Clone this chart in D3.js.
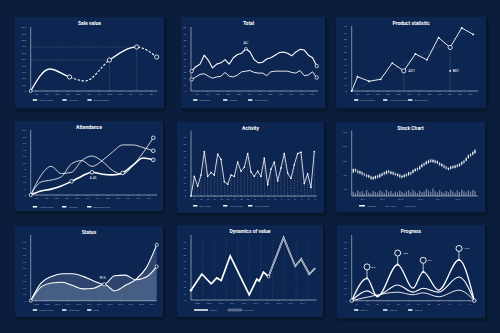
<!DOCTYPE html>
<html>
<head>
<meta charset="utf-8">
<script src="https://cdn.jsdelivr.net/npm/d3@7/dist/d3.min.js"></script>
<style>
html,body{margin:0;padding:0;background:#0a1d3c;overflow:hidden;}
svg{display:block;}
</style>
</head>
<body>
<svg id="board" width="500" height="333"></svg>
<script>
// ---------- data ----------
const months = ["Jan","Feb","Mar","Apr","May","Jun","Jul","Aug","Sep","Oct","Nov","Dec"];

// Sale value: position in months, value
const salePos = [0, 1.8, 3.7, 5.2, 7.5, 10.1, 12];
const saleVal = [0, 344, 219, 156, 484, 688, 531];
const saleForecastSpans = [[2, 4], [5, 6]];
const saleRings = [2, 4, 5, 6];
const saleGuides = [4, 5];
const saleTicks = [0, 100, 200, 300, 400, 500, 600, 700, 800, 900, 1000];
const saleLegend = ["Sales volume", "Forecast", "Average check"];

// Total
const totalUpper = [31,38,42,56,48,36,42,44,49,42,52,57,59,66,61,49,44,45,50,52,56,60,61,59,55,61,65,64,56,52,39];
const totalLower = [18,22,26,27,23,20,22,23,29,23,22,25,30,31,32,29,28,28,24,30,31,31,31,31,29,28,32,24,25,30,21];
const totalPeak = { index: 13, label: "AC" };
const totalTicks = [0, 10, 20, 30, 40, 50, 60, 70, 80, 90, 100];
const totalLegend = ["Marketing", "Support", "Infrastructure"];

// Product statistic
const productVal = [22, 15, 18, 43, 31, 57, 48, 82, 67, 97, 87];
const productTrend = [0, 96];
const productNotes = [{ index: 4, label: "A01" }, { index: 8, label: "B01" }];
const productTicks = [0, 10, 20, 30, 40, 50, 60, 70, 80, 90, 100];
const productLegend = ["Sold products", "Product purchase", "Average price"];

// Attendance
const attendMain = [0, 6, 9, 14, 21, 29, 35, 32, 31, 34, 46, 57, 54];
const attendSecond = [0, 20, 23, 28, 48, 53, 44, 53, 66, 77, 77, 73, 68];
const attendThird = [0, 30, 44, 33, 35, 53, 60, 52, 38, 32, 45, 65, 88];
const attendRings = [4, 6, 9, 12];
const attendNote = { index: 6, label: "A 45" };
const attendTicks = [0, 10, 20, 30, 40, 50, 60, 70, 80, 90, 100];
const attendLegend = ["Visitors actual", "Forecast", "Average per day"];

// Activity
const activityVal = [0,30,15,32,68,30,36,32,64,56,22,18,32,30,52,38,44,65,37,30,38,30,58,17,41,52,23,43,65,35,27,48,65,67,19,34,13,68];
const activityTicks = [0, 10, 20, 30, 40, 50, 60, 70, 80, 90];
const activityLegend = ["Daily visits", "Unique users", "Session length"];

// Stock chart
const stockOpen  = [165,189,178,158,168,156,150,130,138,117,122,145,132,142,167,154,178,155,168,158,139,150,128,133,155,146,167,162,174,196,188,203,230,222,231,256,237,250,228,233,209,214,206,183,190,211,197,219,209,220,249,246,265,294,289,300];
const stockClose = [189,172,162,174,150,144,134,146,118,133,140,127,152,158,151,176,162,171,150,146,155,130,142,149,139,166,151,182,190,180,208,221,214,242,249,238,253,232,244,215,225,198,190,197,206,195,213,203,225,238,231,266,285,278,309,322];
const stockHigh  = [197,195,186,180,173,163,157,152,144,139,147,151,158,165,173,182,185,177,174,165,161,156,149,155,162,172,174,188,197,203,214,228,237,249,256,262,260,256,251,239,231,221,212,204,212,217,220,226,232,245,255,273,292,301,316,330];
const stockLow   = [158,165,155,150,143,137,128,124,112,110,116,121,126,136,144,149,156,149,144,139,133,124,121,127,132,140,145,156,168,173,182,196,207,216,224,232,230,226,221,209,202,192,184,177,184,189,191,197,203,214,225,240,259,271,283,294];
const stockVolume = [42,30,55,38,48,25,60,35,28,52,40,33,58,45,30,62,38,50,27,44,36,55,41,30,48,57,35,62,44,30,52,38,46,70,55,40,75,48,35,58,42,30,50,38,60,45,33,55,40,65,48,36,58,44,62,50];
const stockYearAt = [4, 13, 21, 30, 38, 47];
const stockYears = ["2013", "2014", "2015", "2016", "2017", "2018"];
const stockTicks = [50, 150, 250, 350, 450];
const stockLegend = ["Variation", "\u25B2 07.2018", "\u25CF 08.2018"];

// Status
const statusYears = ["2008","2009","2010","2011","2012","2013","2014","2015","2016","2017","2018","2019"];
const statusPlan = [0, 27, 37, 41, 41, 37, 30, 25, 38, 39, 32, 36, 52];
const statusDone = [0, 21, 27, 28, 23, 18, 19, 25, 15, 23, 32, 50, 85];
const statusNote = { index: 7, label: "R15" };
const statusTicks = [0, 10, 20, 30, 40, 50, 60, 70, 80, 90];
const statusLegend = ["Planned value", "Completed", "Delta"];

// Dynamics of value
const dynYears = [2008, 2009, 2010, 2011, 2012, 2013, 2014, 2015, 2016, 2017];
const dynExportX = [2007.5, 2008.43, 2009.23, 2009.71, 2010.09, 2010.86, 2012.49, 2013.14, 2013.34, 2013.71, 2014.14];
const dynExportY = [15, 40, 25, 34, 30, 68, 8, 32, 29, 43, 36];
const dynReexportX = [2014.14, 2015.43, 2016.43, 2016.94, 2017.63, 2018.14];
const dynReexportY = [36, 96, 52, 63, 40, 49];
const dynTicks = [0, 10, 20, 30, 40, 50, 60, 70, 80, 90];
const dynLegend = ["Export", "Re-export"];

// Progress (half-month steps)
const progressX = [0, 3, 5, 9, 12, 14, 17, 21, 24];
const progressBig = [0, 34, 6, 55, 19, 44, 16, 62, 0];
const progressMid = [0, 15, 8, 24, 13, 19, 13, 36, 0];
const progressLowX = [0, 4, 9, 12, 14, 17, 21, 24];
const progressLow = [0, 7, 13, 9, 12, 6, 16, 0];
const progressPeaks = [1, 3, 5, 7];
const progressPeakLabels = ["872", "1 050", "964", "1 154"];
const progressTicks = [0, 10, 20, 30, 40, 50, 60, 70, 80, 90];
const progressLegend = ["Item 01", "Item 02", "Item 03"];

// ---------- look ----------
const FONT = "Roboto, 'Liberation Sans', Arial, sans-serif";
const BG = "#0a1d3c", PANEL = "#0d2851", INK = "#ffffff";
const AXIS = "rgba(255,255,255,0.8)", TICK = "#8ea2c2";

// card frames and plot areas
const L = {
  sale:     { x: 15,  y: 17,  w: 149, h: 91, l: 30.7,  r: 157,   t: 27,    b: 91,    e: 156.7, lx: [36, 151],   ly: 100,   lxs: [32.7, 62.3, 87.3] },
  total:    { x: 181, y: 17,  w: 144, h: 91, l: 191,   r: 318,   t: 27,    b: 91,    s: 191.7, e: 316.7, lx: [196.7, 311.7], ly: 100, lxs: [193, 223, 248], tx: 248.5 },
  product:  { x: 336, y: 17,  w: 150, h: 91, l: 351.7, r: 478,   t: 26,    b: 91,    e: 473.3, lx: [357, 470],  ly: 100,   lxs: [354, 383, 408] },
  attend:   { x: 15,  y: 121, w: 148, h: 90, l: 30.7,  r: 157,   t: 130,   b: 195,   e: 153.3, lx: [35.8, 148.2], ly: 206.7, lxs: [32.7, 62, 87] },
  activity: { x: 177, y: 122, w: 147, h: 91, l: 191,   r: 316.7, t: 130.7, b: 196,   e: 314.3, ly: 205.7, lxs: [193, 223, 248] },
  stock:    { x: 336, y: 122, w: 149, h: 90, l: 351.7, r: 478,   t: 130.7, b: 196,   s: 353.3, e: 475, ly: 205.7, lxs: [359, 383, 403] },
  status:   { x: 15,  y: 226, w: 148, h: 91, l: 30.7,  r: 156.7, t: 235,   b: 300.7, e: 156.7, ly: 310, lxs: [32.7, 62, 87] },
  dyn:      { x: 177, y: 225, w: 146, h: 92, l: 191,   r: 316.7, t: 235,   b: 300,   e: 319.4, ly: 310, lxs: [194, 228] },
  progress: { x: 337, y: 225, w: 148, h: 93, l: 351.7, r: 476.7, t: 235,   b: 300.7, e: 474.3, ly: 310, lxs: [354, 383, 408] }
};

const svg = d3.select("#board");
const defs = svg.append("defs");
const drop = defs.append("filter").attr("id", "drop")
  .attr("x", "-10%").attr("y", "-10%").attr("width", "125%").attr("height", "130%");
drop.append("feDropShadow").attr("dx", 1.2).attr("dy", 1.8).attr("stdDeviation", 1.8)
  .attr("flood-color", "#020916").attr("flood-opacity", 0.75);

svg.append("rect").attr("width", 500).attr("height", 333).attr("fill", BG);

// ---------- helpers ----------
function card(p, title) {
  const g = svg.append("g");
  g.append("rect").attr("x", p.x).attr("y", p.y).attr("width", p.w).attr("height", p.h)
    .attr("fill", PANEL).attr("filter", "url(#drop)");
  g.append("text").attr("x", p.tx || p.x + p.w / 2).attr("y", p.y + 8.2)
    .attr("text-anchor", "middle").attr("font-family", FONT).attr("font-weight", 700)
    .attr("font-size", 5).attr("fill", INK).text(title);
  return g;
}
function leftAxis(g, p, scale, ticks, fmt) {
  const a = g.append("g").attr("transform", `translate(${p.l},0)`)
    .call(d3.axisLeft(scale).tickValues(ticks).tickSize(0).tickPadding(5).tickFormat(fmt || d3.format("d")));
  a.select(".domain").remove();
  a.selectAll("text").attr("font-size", 2.3).attr("fill", TICK).attr("font-family", FONT);
  g.append("line").attr("x1", p.l).attr("x2", p.l).attr("y1", p.t).attr("y2", p.b)
    .attr("stroke", AXIS).attr("stroke-width", 0.6);
}
function bottomAxis(g, p, scale, ticks, fmt) {
  const ax = d3.axisBottom(scale).tickSize(0.8).tickPadding(1.8);
  if (ticks) ax.tickValues(ticks);
  if (fmt) ax.tickFormat(fmt);
  const a = g.append("g").attr("transform", `translate(0,${p.b})`).call(ax);
  a.select(".domain").remove();
  a.selectAll("line").attr("stroke", AXIS).attr("stroke-width", 0.4);
  a.selectAll("text").attr("font-size", 2.2).attr("fill", TICK).attr("font-family", FONT);
  g.append("line").attr("x1", p.l).attr("x2", p.r).attr("y1", p.b).attr("y2", p.b)
    .attr("stroke", AXIS).attr("stroke-width", 0.6);
}
function legend(g, p, labels, opts) {
  opts = opts || {};
  labels.forEach((lab, i) => {
    const x = p.lxs[i], w = (opts.widths && opts.widths[i]) || 4.5;
    const sw = g.append("rect").attr("x", x).attr("y", p.ly - 0.8).attr("width", w).attr("height", 1.6).attr("rx", 0.6);
    if (opts.outline && opts.outline[i]) sw.attr("fill", "none").attr("stroke", INK).attr("stroke-width", 0.45);
    else sw.attr("fill", INK);
    g.append("text").attr("x", x + w + 2).attr("y", p.ly + 0.8).attr("font-size", 2.3)
      .attr("font-family", FONT).attr("fill", TICK).text(lab);
  });
}
function dotted(sel, op) {
  sel.attr("stroke", INK).attr("stroke-opacity", op == null ? 0.55 : op)
    .attr("stroke-width", 0.5).attr("stroke-dasharray", "0.6 1.1");
}
function ring(g, cx, cy, r, w) {
  return g.append("circle").attr("cx", cx).attr("cy", cy).attr("r", r)
    .attr("fill", PANEL).attr("stroke", INK).attr("stroke-width", w || 0.8);
}
function stroke(sel, w) {
  return sel.attr("fill", "none").attr("stroke", INK).attr("stroke-width", w)
    .attr("stroke-linejoin", "round").attr("stroke-linecap", "round");
}

// ---------- Sale value ----------
{
  const p = L.sale, g = card(p, "Sale value");
  const x = d3.scaleLinear().domain([0, 12]).range([p.l, p.e]);
  const y = d3.scaleLinear().domain([0, 1000]).range([p.b, p.t]);
  leftAxis(g, p, y, saleTicks);
  bottomAxis(g, p, d3.scalePoint().domain(months).range(p.lx));
  saleGuides.forEach(i => {
    g.append("line").attr("x1", p.l).attr("x2", x(salePos[i])).attr("y1", y(saleVal[i])).attr("y2", y(saleVal[i])).call(dotted);
    g.append("line").attr("x1", x(salePos[i])).attr("x2", x(salePos[i])).attr("y1", y(saleVal[i])).attr("y2", p.b).call(dotted);
  });
  const pts = salePos.map((v, i) => [v, saleVal[i]]);
  const line = d3.line().x(d => x(d[0])).y(d => y(d[1])).curve(d3.curveMonotoneX);
  const bounds = [salePos[0], ...saleForecastSpans.flat().map(i => salePos[i]), salePos[salePos.length - 1]];
  const solidClip = defs.append("clipPath").attr("id", "saleSolid");
  for (let k = 0; k < bounds.length; k += 2) {
    const a = x(bounds[k]) - (k === 0 ? 4 : 0), b = x(bounds[k + 1]);
    if (b > a) solidClip.append("rect").attr("x", a).attr("width", b - a).attr("y", p.t - 10).attr("height", p.b - p.t + 20);
  }
  const dashClip = defs.append("clipPath").attr("id", "saleDash");
  saleForecastSpans.forEach(([a, b]) => {
    const xa = x(salePos[a]), xb = x(salePos[b]) + (b === salePos.length - 1 ? 4 : 0);
    dashClip.append("rect").attr("x", xa).attr("width", xb - xa).attr("y", p.t - 10).attr("height", p.b - p.t + 20);
  });
  stroke(g.append("path").attr("d", line(pts)).attr("clip-path", "url(#saleSolid)"), 1.3);
  stroke(g.append("path").attr("d", line(pts)).attr("clip-path", "url(#saleDash)"), 1.1)
    .attr("stroke-linecap", "butt").attr("stroke-dasharray", "2.4 1.6");
  ring(g, x(salePos[0]), y(saleVal[0]), 1.5, 0.7);
  saleRings.forEach(i => ring(g, x(salePos[i]), y(saleVal[i]), 2.1, 0.8));
  legend(g, p, saleLegend);
}

// ---------- Total ----------
{
  const p = L.total, g = card(p, "Total");
  const x = d3.scaleLinear().domain([0, totalUpper.length - 1]).range([p.s, p.e]);
  const y = d3.scaleLinear().domain([0, 100]).range([p.b, p.t]);
  leftAxis(g, p, y, totalTicks);
  bottomAxis(g, p, d3.scalePoint().domain(months).range(p.lx));
  const line = d3.line().x((d, i) => x(i)).y(d => y(d)).curve(d3.curveLinear);
  stroke(g.append("path").attr("d", line(totalLower)), 0.9);
  stroke(g.append("path").attr("d", line(totalUpper)), 1.1);
  [totalUpper, totalLower].forEach(s => {
    ring(g, x(0), y(s[0]), 1.7, 0.7);
    ring(g, x(s.length - 1), y(s[s.length - 1]), 1.7, 0.7);
  });
  const pk = totalPeak.index;
  ring(g, x(pk), y(totalUpper[pk]), 1.3, 0.7);
  g.append("text").attr("x", x(pk)).attr("y", y(totalUpper[pk]) - 4.5).attr("text-anchor", "middle")
    .attr("font-family", FONT).attr("font-size", 4).attr("fill", INK).text(totalPeak.label);
  legend(g, p, totalLegend);
}

// ---------- Product statistic ----------
{
  const p = L.product, g = card(p, "Product statistic");
  const x = d3.scaleLinear().domain([-0.5, productVal.length - 1]).range([p.l, p.e]);
  const y = d3.scaleLinear().domain([0, 100]).range([p.b, p.t]);
  leftAxis(g, p, y, productTicks);
  bottomAxis(g, p, d3.scalePoint().domain(months).range(p.lx));
  g.append("line").attr("x1", x(-0.5)).attr("y1", y(productTrend[0]))
    .attr("x2", x(productVal.length - 1)).attr("y2", y(productTrend[1])).call(dotted, 0.45);
  productNotes.forEach(n => {
    g.append("line").attr("x1", x(n.index)).attr("x2", x(n.index)).attr("y1", y(productVal[n.index])).attr("y2", p.b).call(dotted, 0.7);
  });
  const pts = [[-0.5, 0], ...productVal.map((v, i) => [i, v])];
  const line = d3.line().x(d => x(d[0])).y(d => y(d[1]));
  stroke(g.append("path").attr("d", line(pts)), 0.9);
  g.selectAll(null).data(pts).enter().append("circle")
    .attr("cx", d => x(d[0])).attr("cy", d => y(d[1])).attr("r", 0.9).attr("fill", INK);
  const base = productNotes[0];
  const noteY = y(productVal[base.index]);
  productNotes.forEach((n, k) => {
    if (k === 0) {
      ring(g, x(n.index), noteY, 2.1, 0.8);
      g.append("text").attr("x", x(n.index) + 4.5).attr("y", noteY + 1.4).attr("font-family", FONT)
        .attr("font-size", 3.8).attr("fill", INK).text(n.label);
    } else {
      ring(g, x(n.index), y(productVal[n.index]), 2.1, 0.8);
      g.append("rect").attr("x", x(n.index) - 0.8).attr("y", noteY - 0.8).attr("width", 1.6).attr("height", 1.6).attr("fill", INK);
      g.append("text").attr("x", x(n.index) + 2.5).attr("y", noteY + 1.4).attr("font-family", FONT)
        .attr("font-size", 3.8).attr("fill", INK).text(n.label);
    }
  });
  legend(g, p, productLegend);
}

// ---------- Attendance ----------
{
  const p = L.attend, g = card(p, "Attendance");
  const x = d3.scaleLinear().domain([0, 12]).range([p.l, p.e]);
  const y = d3.scaleLinear().domain([0, 100]).range([p.b, p.t]);
  leftAxis(g, p, y, attendTicks);
  bottomAxis(g, p, d3.scalePoint().domain(months).range(p.lx));
  const line = d3.line().x((d, i) => x(i)).y(d => y(d)).curve(d3.curveMonotoneX);
  stroke(g.append("path").attr("d", line(attendSecond)), 0.8);
  stroke(g.append("path").attr("d", line(attendThird)), 0.8);
  stroke(g.append("path").attr("d", line(attendMain)), 1.6);
  ring(g, x(0), y(0), 1.6, 0.7);
  attendRings.forEach(i => ring(g, x(i), y(attendMain[i]), 1.8, 0.8));
  ring(g, x(12), y(attendSecond[12]), 1.8, 0.8);
  ring(g, x(12), y(attendThird[12]), 1.8, 0.8);
  g.append("text").attr("x", x(attendNote.index) + 1).attr("y", y(attendMain[attendNote.index]) + 7)
    .attr("text-anchor", "middle").attr("font-family", FONT).attr("font-size", 3.2)
    .attr("fill", INK).text(attendNote.label);
  legend(g, p, attendLegend);
}

// ---------- Activity ----------
{
  const p = L.activity, g = card(p, "Activity");
  const x = d3.scaleLinear().domain([0, activityVal.length - 1]).range([p.l, p.e]);
  const y = d3.scaleLinear().domain([0, 100]).range([p.b, p.t]);
  leftAxis(g, p, y, activityTicks);
  bottomAxis(g, p, x, d3.range(1, activityVal.length, 2), d => String((d + 1) / 2).padStart(2, "0"));
  activityVal.forEach((v, i) => {
    g.append("line").attr("x1", x(i)).attr("x2", x(i)).attr("y1", y(v)).attr("y2", p.b).call(dotted, 0.6);
  });
  const line = d3.line().x((d, i) => x(i)).y(d => y(d));
  stroke(g.append("path").attr("d", line(activityVal)), 0.8);
  g.selectAll(null).data(activityVal).enter().append("rect")
    .attr("x", (d, i) => x(i) - 0.7).attr("y", d => y(d) - 0.7)
    .attr("width", 1.4).attr("height", 1.4).attr("fill", INK);
  legend(g, p, activityLegend);
}

// ---------- Stock Chart ----------
{
  const p = L.stock, g = card(p, "Stock Chart");
  const x = d3.scaleLinear().domain([0, stockClose.length - 1]).range([p.s, p.e]);
  const y = d3.scaleLinear().domain([0, 450]).range([p.b, p.t + 1]);
  const v = d3.scaleLinear().domain([0, 100]).range([0, 10]);
  leftAxis(g, p, y, stockTicks);
  bottomAxis(g, p, x, stockYearAt, (d, i) => stockYears[i]);
  g.selectAll(null).data(stockVolume).enter().append("rect")
    .attr("x", (d, i) => x(i) - 0.65).attr("y", d => p.b - v(d))
    .attr("width", 1.3).attr("height", d => v(d)).attr("fill", "#ffffff").attr("fill-opacity", 0.42);
  stockClose.forEach((c, i) => {
    const o = stockOpen[i];
    g.append("line").attr("x1", x(i)).attr("x2", x(i)).attr("y1", y(stockHigh[i])).attr("y2", y(stockLow[i]))
      .attr("stroke", INK).attr("stroke-opacity", 0.8).attr("stroke-width", 0.4);
    g.append("rect").attr("x", x(i) - 0.65).attr("y", y(Math.max(o, c)))
      .attr("width", 1.3).attr("height", Math.abs(y(o) - y(c)))
      .attr("fill", INK).attr("fill-opacity", c >= o ? 0.95 : 0.75);
  });
  legend(g, p, stockLegend, { widths: [6, 0.01, 0.01] });
}

// ---------- Status ----------
{
  const p = L.status, g = card(p, "Status");
  const x = d3.scaleLinear().domain([0, 12]).range([p.l, p.e]);
  const y = d3.scaleLinear().domain([0, 100]).range([p.b, p.t]);
  leftAxis(g, p, y, statusTicks);
  bottomAxis(g, p, x, d3.range(0.5, 12, 1), (d, i) => statusYears[i]);
  const area = d3.area().x((d, i) => x(i)).y0(p.b).y1(d => y(d)).curve(d3.curveMonotoneX);
  const line = d3.line().x((d, i) => x(i)).y(d => y(d)).curve(d3.curveMonotoneX);
  [statusPlan, statusDone].forEach(s => {
    g.append("path").attr("d", area(s)).attr("fill", "#9fb6d6").attr("fill-opacity", 0.22);
  });
  stroke(g.append("path").attr("d", line(statusPlan)), 1.1);
  stroke(g.append("path").attr("d", line(statusDone)), 1.1);
  ring(g, x(0), y(0), 1.5, 0.7);
  ring(g, x(12), y(statusPlan[12]), 1.6, 0.7);
  ring(g, x(12), y(statusDone[12]), 1.6, 0.7);
  const n = statusNote.index;
  ring(g, x(n), y(statusPlan[n]), 1.6, 0.7);
  g.append("text").attr("x", x(n) - 1.5).attr("y", y(statusPlan[n]) - 5).attr("text-anchor", "middle")
    .attr("font-family", FONT).attr("font-size", 3.4).attr("fill", INK).text(statusNote.label);
  legend(g, p, statusLegend);
}

// ---------- Dynamics of value ----------
{
  const p = L.dyn, g = card(p, "Dynamics of value");
  const x = d3.scaleLinear().domain([2007.5, 2018.5]).range([p.l, p.e]);
  const y = d3.scaleLinear().domain([0, 100]).range([p.b, p.t]);
  leftAxis(g, p, y, dynTicks);
  dynYears.forEach(yr => {
    g.append("line").attr("x1", x(yr + 0.5)).attr("x2", x(yr + 0.5)).attr("y1", p.t + 2).attr("y2", p.b).call(dotted, 0.28);
  });
  bottomAxis(g, p, x, dynYears, d3.format("d"));
  const line = d3.line().x(d => x(d[0])).y(d => y(d[1]));
  const re = dynReexportX.map((v, i) => [v, dynReexportY[i]]);
  g.append("path").attr("d", line(re)).attr("fill", "none").attr("stroke", INK).attr("stroke-width", 1.7).attr("stroke-linejoin", "miter");
  g.append("path").attr("d", line(re)).attr("fill", "none").attr("stroke", PANEL).attr("stroke-width", 0.6).attr("stroke-linejoin", "miter");
  const ex = dynExportX.map((v, i) => [v, dynExportY[i]]);
  g.append("path").attr("d", line(ex)).attr("fill", "none").attr("stroke", INK).attr("stroke-width", 1.7).attr("stroke-linejoin", "miter");
  g.append("circle").attr("cx", x(ex[0][0])).attr("cy", y(ex[0][1])).attr("r", 1.3).attr("fill", INK);
  ring(g, x(re[0][0]), y(re[0][1]), 1.4, 0.7);
  legend(g, p, dynLegend, { widths: [14, 14], outline: [false, true] });
}

// ---------- Progress ----------
{
  const p = L.progress, g = card(p, "Progress");
  const x = d3.scaleLinear().domain([0, 24]).range([p.l, p.e]);
  const y = d3.scaleLinear().domain([0, 100]).range([p.b, p.t]);
  leftAxis(g, p, y, progressTicks);
  bottomAxis(g, p, x, d3.range(1, 24, 2), d => String((d + 1) / 2).padStart(2, "0"));
  const line = d3.line().x(d => x(d[0])).y(d => y(d[1])).curve(d3.curveMonotoneX);
  stroke(g.append("path").attr("d", line(progressLowX.map((v, i) => [v, progressLow[i]]))), 0.9);
  stroke(g.append("path").attr("d", line(progressX.map((v, i) => [v, progressMid[i]]))), 1.1);
  stroke(g.append("path").attr("d", line(progressX.map((v, i) => [v, progressBig[i]]))), 1.3);
  progressPeaks.forEach((k, j) => {
    const cx = x(progressX[k]), cy = y(progressBig[k]), ry = cy - 11.5;
    g.append("line").attr("x1", cx).attr("x2", cx).attr("y1", cy).attr("y2", ry + 3)
      .attr("stroke", "#c9d4e6").attr("stroke-width", 0.9);
    g.append("circle").attr("cx", cx).attr("cy", cy).attr("r", 1.1).attr("fill", INK);
    ring(g, cx, ry, 3, 0.9);
    g.append("text").attr("x", cx + 4.5).attr("y", ry + 0.9).attr("font-family", FONT)
      .attr("font-size", 2.3).attr("fill", INK).text(progressPeakLabels[j]);
  });
  ring(g, x(0), y(0), 1.7, 0.8);
  ring(g, x(24), y(0), 1.7, 0.8);
  legend(g, p, progressLegend);
}
</script>
</body>
</html>
